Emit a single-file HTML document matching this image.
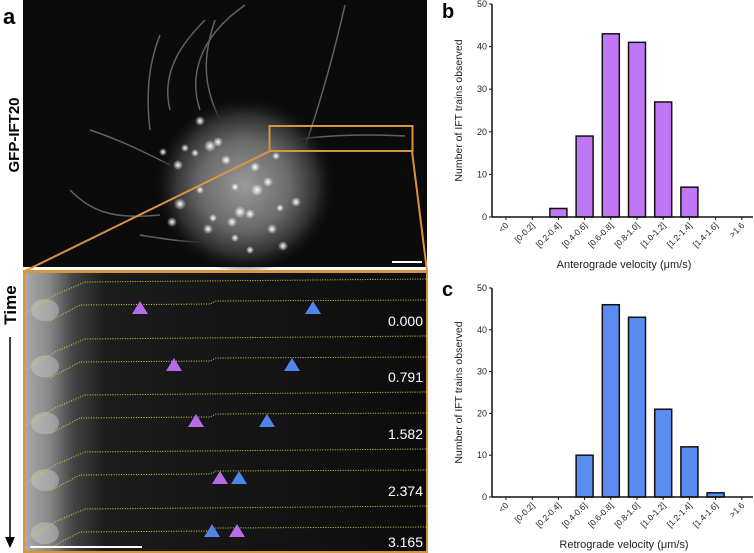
<!DOCTYPE html>
<html><head><meta charset="utf-8"><style>
html,body{margin:0;padding:0;background:#fff;}
svg{display:block;font-family:"Liberation Sans",sans-serif;}
</style></head><body>
<svg id="fig" width="754" height="553" viewBox="0 0 754 553" xmlns="http://www.w3.org/2000/svg">
<defs>
<radialGradient id="cell" cx="0.5" cy="0.5" r="0.5">
<stop offset="0" stop-color="#9a9a9a"/><stop offset="0.5" stop-color="#6a6a6a"/><stop offset="0.8" stop-color="#2e2e2e"/><stop offset="1" stop-color="#111" stop-opacity="0"/>
</radialGradient>
<radialGradient id="dot"><stop offset="0" stop-color="#fff"/><stop offset="1" stop-color="#fff" stop-opacity="0"/></radialGradient>
<linearGradient id="strip" x1="0" x2="1" y1="0" y2="0">
<stop offset="0" stop-color="#aaa"/><stop offset="0.06" stop-color="#888"/><stop offset="0.12" stop-color="#444"/><stop offset="0.2" stop-color="#1c1c1c"/><stop offset="1" stop-color="#0c0c0c"/>
</linearGradient>
</defs>
<g>
<text x="3" y="24" font-size="22" font-weight="bold">a</text>
<text transform="translate(19,135) rotate(-90)" text-anchor="middle" font-size="15" font-weight="bold">GFP-IFT20</text>
<rect x="23" y="0" width="404" height="267" fill="#0b0b0b"/>
<g stroke="#777" stroke-width="1.5" fill="none" opacity="0.8">
<path d="M150,130 C145,90 150,60 160,35"/><path d="M170,110 C160,70 185,40 205,20"/><path d="M200,110 C190,80 195,40 245,5"/><path d="M220,120 C200,80 205,50 215,20"/>
<path d="M300,160 C315,120 330,70 345,5"/><path d="M90,130 C120,140 140,150 170,165"/><path d="M70,190 C90,210 110,220 160,215"/>
<path d="M270,145 C310,134 370,134 405,136"/><path d="M140,235 C170,240 200,245 230,240"/>
</g>
<ellipse cx="245" cy="185" rx="90" ry="88" fill="url(#cell)"/>
<g fill="url(#dot)">
<circle cx="200" cy="121" r="5"/><circle cx="210" cy="146" r="6"/><circle cx="218" cy="142" r="5"/><circle cx="185" cy="148" r="4"/><circle cx="195" cy="153" r="4"/><circle cx="226" cy="160" r="5"/><circle cx="178" cy="165" r="5"/><circle cx="255" cy="167" r="5"/><circle cx="268" cy="182" r="5"/><circle cx="257" cy="190" r="6"/><circle cx="200" cy="190" r="4"/><circle cx="180" cy="204" r="6"/><circle cx="235" cy="187" r="4"/><circle cx="296" cy="202" r="5"/><circle cx="280" cy="208" r="4"/><circle cx="240" cy="212" r="6"/><circle cx="250" cy="214" r="5"/><circle cx="213" cy="218" r="4"/><circle cx="232" cy="222" r="5"/><circle cx="172" cy="222" r="5"/><circle cx="208" cy="229" r="5"/><circle cx="272" cy="229" r="5"/><circle cx="235" cy="238" r="4"/><circle cx="283" cy="246" r="5"/><circle cx="250" cy="250" r="4"/><circle cx="163" cy="152" r="4"/><circle cx="276" cy="156" r="4"/>
</g>
<rect x="269.5" y="126" width="143" height="25" fill="none" stroke="#d9943f" stroke-width="2"/>
<line x1="270" y1="151" x2="25" y2="271" stroke="#d9943f" stroke-width="2"/>
<line x1="412" y1="151" x2="427" y2="271" stroke="#d9943f" stroke-width="2"/>
<line x1="392" y1="262" x2="422" y2="262" stroke="#fff" stroke-width="2"/>
<rect x="23" y="270" width="405" height="283" fill="#d9943f"/>
<g id="strips"></g>
<line x1="30" y1="547" x2="142" y2="547" stroke="#fff" stroke-width="2"/>
<text transform="translate(16,305) rotate(-90)" text-anchor="middle" font-size="17" font-weight="bold">Time</text>
<line x1="10" y1="337" x2="10" y2="540" stroke="#000" stroke-width="1.5"/>
<path d="M5,537 L10,548 L15,537 Z" fill="#000"/>
</g>
<g id="chartB"></g>
<g id="chartC"></g>
<text x="442" y="18" font-size="20" font-weight="bold">b</text>
<text x="442" y="296" font-size="20" font-weight="bold">c</text>
</svg>
<script>
const categories = ["<0","[0-0.2]","[0.2-0.4]","[0.4-0.6]","[0.6-0.8]","[0.8-1.0]","[1.0-1.2]","[1.2-1.4]","[1.4-1.6]",">1.6"];
const anterogradeCounts = [0,0,2,19,43,41,27,7,0,0];
const retrogradeCounts = [0,0,0,10,46,43,21,12,1,0];
const yTicks = [0,10,20,30,40,50];
const timeLabels = ["0.000","0.791","1.582","2.374","3.165"];
const purplePos = [140,174,196,220,237];
const bluePos = [313,292,267,239,212];
const NS = "http://www.w3.org/2000/svg";
function mk(tag, attrs, parent){const e=document.createElementNS(NS,tag);for(const k in attrs)e.setAttribute(k,attrs[k]);parent.appendChild(e);return e;}

const sg = document.getElementById('strips');
const stripH = [57,56,57,57,51];
let stripTop = 273;
for (let i=0;i<5;i++){
  const h = stripH[i];
  const t0 = stripTop;
  const r = mk('rect',{x:25,y:t0,width:401,height:h,fill:'url(#strip)'},sg);
  
  
  const g1 = mk('ellipse',{cx:45,cy:t0+h*0.65,rx:14,ry:11,fill:'#ccc',opacity:0.45},sg);
  
  
  const u = mk('polyline',{points:`25,${t0+40} 55,${t0+22} 85,${t0+9} 200,${t0+8} 428,${t0+6}`,fill:'none',stroke:'#d8d040','stroke-width':1,'stroke-dasharray':'1,1.5'},sg);
  
  
  const l = mk('polyline',{points:`50,${t0+48} 80,${t0+32} 210,${t0+31} 216,${t0+28} 428,${t0+27}`,fill:'none',stroke:'#d8d040','stroke-width':1,'stroke-dasharray':'1,1.5'},sg);
  
  
  const by = t0 + (i===4?37:41);
  const p = mk('path',{d:`M${purplePos[i]-8},${by} L${purplePos[i]},${by-13} L${purplePos[i]+8},${by} Z`,fill:'#b86be8'},sg);
  
  
  const b = mk('path',{d:`M${bluePos[i]-8},${by} L${bluePos[i]},${by-13} L${bluePos[i]+8},${by} Z`,fill:'#4f85e6'},sg);
  
  
  const t = mk('text',{x:423,y:t0+h-4,'text-anchor':'end','font-size':14,fill:'#fff'},sg);
  t.textContent = timeLabels[i];
  
  
  stripTop += h;
}

function chart(gid, values, y0, y50, color, title){
  const g = document.getElementById(gid);
  const ax = 492, xStart = 506, step = 26.2, bw = 17;
  const yS = v => y0 - (y0-y50)*v/50;
  const xS = i => xStart + i*step;
  for (let i=0;i<values.length;i++){
    const v = values[i]; if (v<=0) continue;
    const r = mk('rect',{x:xS(i)-bw/2,y:yS(v),width:bw,height:y0-yS(v),fill:color,stroke:'#111','stroke-width':1.5},g);
    
    
  }
  const yl = mk('line',{x1:ax,y1:y50,x2:ax,y2:y0,stroke:'#111','stroke-width':1.5},g);
  
  
  const xl = mk('line',{x1:ax,y1:y0,x2:753,y2:y0,stroke:'#111','stroke-width':1.5},g);
  
  
  yTicks.forEach(t=>{
    const tk = mk('line',{x1:ax-3,y1:yS(t),x2:ax,y2:yS(t),stroke:'#111'},g);
    
    
    const tl = mk('text',{x:ax-5,y:yS(t)+3,'text-anchor':'end','font-size':9,fill:'#222'},g);
    tl.textContent = t;
    
    
  });
  categories.forEach((c,i)=>{
    const tk = mk('line',{x1:xS(i),y1:y0,x2:xS(i),y2:y0+3,stroke:'#111'},g);
    
    
    const tl = mk('text',{transform:`translate(${xS(i)+3},${y0+9}) rotate(-45)`,'text-anchor':'end','font-size':8.5,fill:'#222'},g);
    tl.textContent = c;
    
    
  });
  const yt = mk('text',{transform:`translate(462,${(y0+y50)/2}) rotate(-90)`,'text-anchor':'middle','font-size':10.5,fill:'#222'},g);
  yt.textContent = 'Number of IFT trains observed';
  
  
  const xt = mk('text',{x:624,y:y0+51,'text-anchor':'middle','font-size':11,fill:'#222'},g);
  xt.textContent = title;
  
  
}
chart('chartB', anterogradeCounts, 217, 4, '#bf77f6', 'Anterograde velocity (\u03bcm/s)');
chart('chartC', retrogradeCounts, 497, 288, '#5a8cf2', 'Retrograde velocity (\u03bcm/s)');
</script>
</body></html>
